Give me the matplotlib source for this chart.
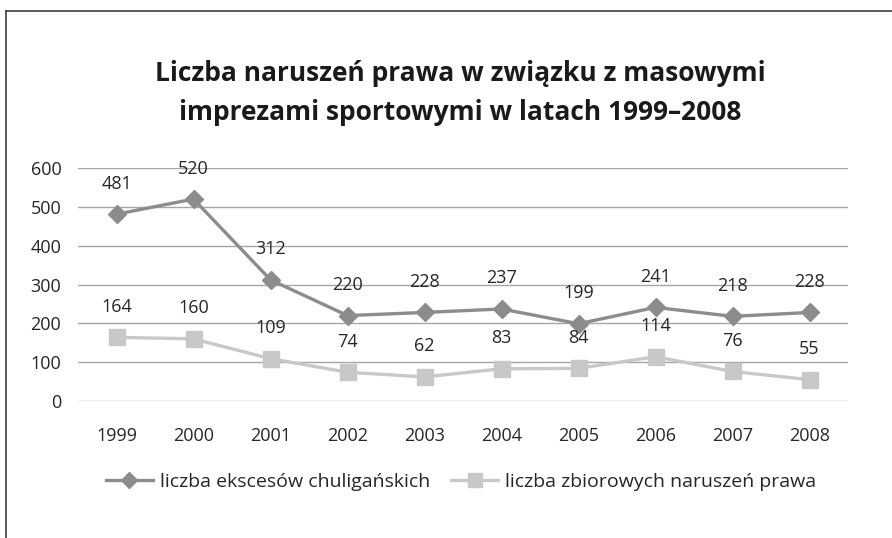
import matplotlib
matplotlib.use("Agg")
import matplotlib.pyplot as plt
from matplotlib.lines import Line2D

years = ["1999", "2000", "2001", "2002", "2003", "2004", "2005", "2006", "2007", "2008"]
ekscesy = [481, 520, 312, 220, 228, 237, 199, 241, 218, 228]
zbiorowe = [164, 160, 109, 74, 62, 83, 84, 114, 76, 55]
yticks = [0, 100, 200, 300, 400, 500, 600]
title = "Liczba naruszeń prawa w związku z masowymi\nimprezami sportowymi w latach 1999–2008"
labels = ["liczba ekscesów chuligańskich", "liczba zbiorowych naruszeń prawa"]

FONT = "Open Sans"
TXT = "#262626"

fig = plt.figure(figsize=(8.92, 5.38), dpi=100)
ax = fig.add_axes([78/892, 1-401/538, 770/892, (401-168)/538])

x = list(range(len(years)))
ax.plot(x, ekscesy, color="#8c8c8e", lw=2.4, marker="D", ms=9, zorder=3)
ax.plot(x, zbiorowe, color="#c8c8ca", lw=2.4, marker="s", ms=12, zorder=3)

for series in (ekscesy, zbiorowe):
    for xi, v in zip(x, series):
        ax.annotate(str(v), (xi, v), xytext=(0, 22), textcoords="offset points",
                    ha="center", va="center", fontsize=13, color=TXT, family=FONT)

ax.set_xlim(-0.5, len(years) - 0.5)
ax.set_ylim(0, 600)
ax.set_yticks(yticks)
ax.set_xticks(x)
ax.set_xticklabels(years)
ax.grid(axis="y", color="#a6a6a6", lw=1)
ax.set_axisbelow(True)
for s in ax.spines.values():
    s.set_visible(False)
ax.tick_params(length=0, labelsize=13, labelcolor=TXT)
ax.tick_params(axis="y", pad=12)
ax.tick_params(axis="x", pad=19)
for lab in ax.get_xticklabels() + ax.get_yticklabels():
    lab.set_family(FONT)

fig.text(460/892, 1-93/538, title, ha="center", va="center", fontsize=19,
         fontweight="bold", family=FONT, color="#1a1a1a", linespacing=1.55)

h1 = Line2D([], [], color="#8c8c8e", lw=2.4, marker="D", ms=8)
h2 = Line2D([], [], color="#c8c8ca", lw=2.4, marker="s", ms=10)
fig.legend([h1, h2], labels, loc="center", bbox_to_anchor=(461/892, 1-482/538),
           ncol=2, frameon=False, prop={"family": FONT, "size": 14},
           handlelength=2.4, handletextpad=0.35, columnspacing=1.1, labelcolor=TXT)

fig.add_artist(Line2D([6/892, 6/892], [0, 1-11/538], color="#404040", lw=1.2))
fig.add_artist(Line2D([6/892, 1], [1-11/538, 1-11/538], color="#404040", lw=1.2))

fig.savefig("out.png", dpi=100)
